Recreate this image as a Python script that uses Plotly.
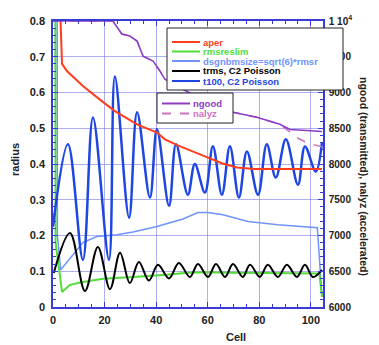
import plotly.graph_objects as go

# ---------------- data ----------------
cell_t100 = [0, 5.8, 11.6, 15.5, 21.7, 24.0, 29.5, 32.6, 37.6, 40.3, 45.0, 47.7, 52.3, 55.0,
             58.9, 62.0, 65.5, 68.6, 72.1, 75.2, 79.5, 82.9, 86.4, 90.3, 95.0, 97.7, 101.9, 104.3]
t100 = [0.225, 0.455, 0.132, 0.53, 0.132, 0.645, 0.25, 0.545, 0.306, 0.497, 0.283, 0.455, 0.314, 0.40,
        0.32, 0.45, 0.314, 0.45, 0.306, 0.435, 0.314, 0.455, 0.362, 0.469, 0.342, 0.449, 0.379, 0.46]

cell_trms = [0.3, 6.6, 12.4, 17.4, 22.1, 26.0, 29.8, 33.3, 37.2, 40.7, 45.0, 48.8, 53.1, 56.2,
             60.1, 63.2, 66.7, 69.8, 73.6, 76.4, 80.2, 83.3, 87.2, 90.7, 94.6, 97.7, 100.8, 104.3]
trms = [0.095, 0.207, 0.045, 0.168, 0.05, 0.152, 0.067, 0.126, 0.074, 0.118, 0.08, 0.123, 0.084, 0.12,
        0.084, 0.12, 0.084, 0.12, 0.084, 0.118, 0.084, 0.118, 0.084, 0.118, 0.084, 0.118, 0.084, 0.104]

cell_rms = [0.9, 1.0, 3.5, 6.6, 11.6, 19.4, 31, 44, 52, 60, 70, 80, 90, 100, 103.3, 104.3]
rmsreslim = [0.9, 0.18, 0.042, 0.062, 0.07, 0.079, 0.084, 0.09, 0.096, 0.097, 0.096, 0.095, 0.095,
             0.094, 0.094, 0.028]

cell_dsg = [1.6, 1.7, 3.0, 3.9, 7.8, 11.6, 17, 24.8, 31, 40.3, 50.4, 56.2, 60, 65.9, 75.6, 87.2,
            102.5, 104.3]
dsgnbmsize = [0.9, 0.2, 0.104, 0.112, 0.146, 0.18, 0.197, 0.202, 0.21, 0.225, 0.246, 0.264, 0.264,
              0.258, 0.239, 0.23, 0.222, 0.03]

cell_aper = [2.7, 3.3, 3.5, 5.4, 11.6, 18.2, 24, 32.6, 40.3, 43.4, 48.4, 57, 60, 65.5, 71.3, 78.3,
             90, 100, 104.3]
aper = [0.85, 0.69, 0.68, 0.66, 0.618, 0.58, 0.548, 0.511, 0.488, 0.469, 0.452, 0.427, 0.418, 0.402,
        0.39, 0.386, 0.386, 0.386, 0.386]

cell_ngood = [0, 10, 20, 23.3, 24, 26.7, 29.8, 32.6, 34.9, 38.8, 41.5, 43.4, 50, 58, 65, 69.8, 79,
              88, 91.9, 98.4, 104.3]
ngood = [10000, 10000, 10000, 10000, 9958, 9818, 9790, 9720, 9509, 9440, 9298, 9186, 9050, 8900,
         8780, 8723, 8653, 8555, 8484, 8470, 8456]

cell_nalyz = [0, 10, 20, 23.3, 24, 26.7, 29.8, 32.6, 34.9, 38.8, 41.5, 43.4, 50, 58, 65, 69.8, 79,
              88, 91, 95, 99, 104.3]
nalyz = [10000, 10000, 10000, 10000, 9958, 9818, 9790, 9720, 9509, 9440, 9298, 9186, 9050, 8900,
         8780, 8723, 8653, 8555, 8470, 8360, 8290, 8240]

left_ticks = [0, 0.1, 0.2, 0.3, 0.4, 0.5, 0.6, 0.7, 0.8]
right_ticks = [6000, 6500, 7000, 7500, 8000, 8500, 9000, 9500, 10000]
right_labels = ["6000", "6500", "7000", "7500", "8000", "8500", "9000", "9500", "1 10<sup>4</sup>"]
x_ticks = [0, 20, 40, 60, 80, 100]

legend1 = [("aper", "#ff3d1e", "solid"), ("rmsreslim", "#52dc38", "solid"),
           ("dsgnbmsize=sqrt(6)*rmsr", "#6f93ff", "solid"), ("trms, C2 Poisson", "#000000", "solid"),
           ("t100, C2 Poisson", "#1e46e2", "solid")]
legend2 = [("ngood", "#8c3cc4", "solid"), ("nalyz", "#d070c4", "dash")]

# ---------------- geometry ----------------
# the page body has an 8px margin, so the figure starts at page pixel (8, 8)
PAGE_W, PAGE_H = 379, 345
OFF = 8
PLOT_L, PLOT_R, PLOT_T, PLOT_B = 53, 323, 21, 307   # plot area in page pixels
W, H = PAGE_W - OFF, PAGE_H - OFF
L, T = PLOT_L - OFF, PLOT_T - OFF
R, B = PAGE_W - PLOT_R, PAGE_H - PLOT_B
PW, PH = PLOT_R - PLOT_L, PLOT_B - PLOT_T
def px(x):
    return (x - PLOT_L) / PW
def py(y):
    return (PLOT_B - y) / PH

AX = "#3a3ad6"
GRID = "rgba(110,110,225,0.55)"
FONT = "Arial, Liberation Sans, sans-serif"

fig = go.Figure()
fig.add_trace(go.Scatter(x=cell_nalyz, y=nalyz, yaxis="y2", mode="lines",
                         line=dict(color="#d070c4", width=1.5, dash="dash"), name="nalyz"))
fig.add_trace(go.Scatter(x=cell_ngood, y=ngood, yaxis="y2", mode="lines",
                         line=dict(color="#8c3cc4", width=1.5), name="ngood"))
fig.add_trace(go.Scatter(x=cell_dsg, y=dsgnbmsize, mode="lines",
                         line=dict(color="#6f93ff", width=1.5), name="dsgnbmsize"))
fig.add_trace(go.Scatter(x=cell_rms, y=rmsreslim, mode="lines",
                         line=dict(color="#52dc38", width=2), name="rmsreslim"))
fig.add_trace(go.Scatter(x=cell_trms, y=trms, mode="lines", line_shape="spline",
                         line=dict(color="#000000", width=2), name="trms"))
fig.add_trace(go.Scatter(x=cell_t100, y=t100, mode="lines", line_shape="spline",
                         line=dict(color="#1e46e2", width=2.5), name="t100"))
fig.add_trace(go.Scatter(x=cell_aper, y=aper, mode="lines",
                         line=dict(color="#ff3d1e", width=2), name="aper"))

shapes = []
annotations = []

def legend_box(x0, y0, x1, y1, items, rows, sx0, sx1, tx):
    shapes.append(dict(type="rect", xref="paper", yref="paper", x0=px(x0), x1=px(x1),
                       y0=py(y1), y1=py(y0), fillcolor="white",
                       line=dict(color="#222222", width=1), layer="above"))
    for (name, col, dash), ry in zip(items, rows):
        shapes.append(dict(type="line", xref="paper", yref="paper", x0=px(sx0), x1=px(sx1),
                           y0=py(ry), y1=py(ry), line=dict(color=col, width=2, dash=dash),
                           layer="above"))
        annotations.append(dict(x=px(tx), y=py(ry), xref="paper", yref="paper", text=name,
                                showarrow=False, xanchor="left", yanchor="middle",
                                font=dict(family=FONT, size=9.5, color=col, weight="bold")))

legend_box(167, 28, 343, 90, legend1, [42, 51.5, 61, 71, 81], 172, 200, 201)
legend_box(157, 93, 233, 123, legend2, [103.5, 113.5], 162, 190, 191)

annotations.append(dict(x=px(15), y=py(160), xref="paper", yref="paper", text="radius",
                        showarrow=False, textangle=-90, xanchor="center", yanchor="middle",
                        font=dict(family=FONT, size=11, color="#222", weight="bold")))
annotations.append(dict(x=px(236), y=py(337), xref="paper", yref="paper", text="Cell",
                        showarrow=False, xanchor="center", yanchor="middle",
                        font=dict(family=FONT, size=11, color="#222", weight="bold")))
annotations.append(dict(x=px(364), y=py(176), xref="paper", yref="paper",
                        text="ngood (transmitted), nalyz (accelerated)",
                        showarrow=False, textangle=90, xanchor="center", yanchor="middle",
                        font=dict(family=FONT, size=10.5, color="#222", weight="bold")))

tickfont = dict(family=FONT, size=11, color="#222", weight="bold")
fig.update_layout(
    width=W, height=H, margin=dict(l=L, r=R, t=T, b=B, autoexpand=False),
    paper_bgcolor="white", plot_bgcolor="white", showlegend=False,
    shapes=shapes, annotations=annotations,
    xaxis=dict(range=[0, 104.7], tickvals=x_ticks, showgrid=True, gridcolor=GRID, gridwidth=1,
               zeroline=False, showline=True, linecolor=AX, linewidth=1.5, mirror="ticks",
               ticks="inside", ticklen=5, tickcolor=AX, tickwidth=1,
               minor=dict(dtick=5, ticks="inside", ticklen=3, tickcolor=AX, showgrid=False),
               tickfont=tickfont, ticklabelstandoff=2),
    yaxis=dict(range=[0, 0.8], tickvals=left_ticks, showgrid=True, gridcolor=GRID, gridwidth=1,
               zeroline=False, showline=True, linecolor=AX, linewidth=1.5,
               ticks="inside", ticklen=5, tickcolor=AX, tickwidth=1,
               minor=dict(dtick=0.02, ticks="inside", ticklen=3, tickcolor=AX, showgrid=False),
               tickfont=tickfont, ticklabelstandoff=4),
    yaxis2=dict(range=[6000, 10000], overlaying="y", side="right", tickvals=right_ticks,
                ticktext=right_labels, showgrid=False, zeroline=False, showline=True,
                linecolor=AX, linewidth=1.5, ticks="inside", ticklen=5, tickcolor=AX,
                minor=dict(dtick=100, ticks="inside", ticklen=3, tickcolor=AX, showgrid=False),
                tickfont=dict(family=FONT, size=10, color="#222", weight="bold"),
                ticklabelstandoff=2),
)

fig.write_html("out.html")
